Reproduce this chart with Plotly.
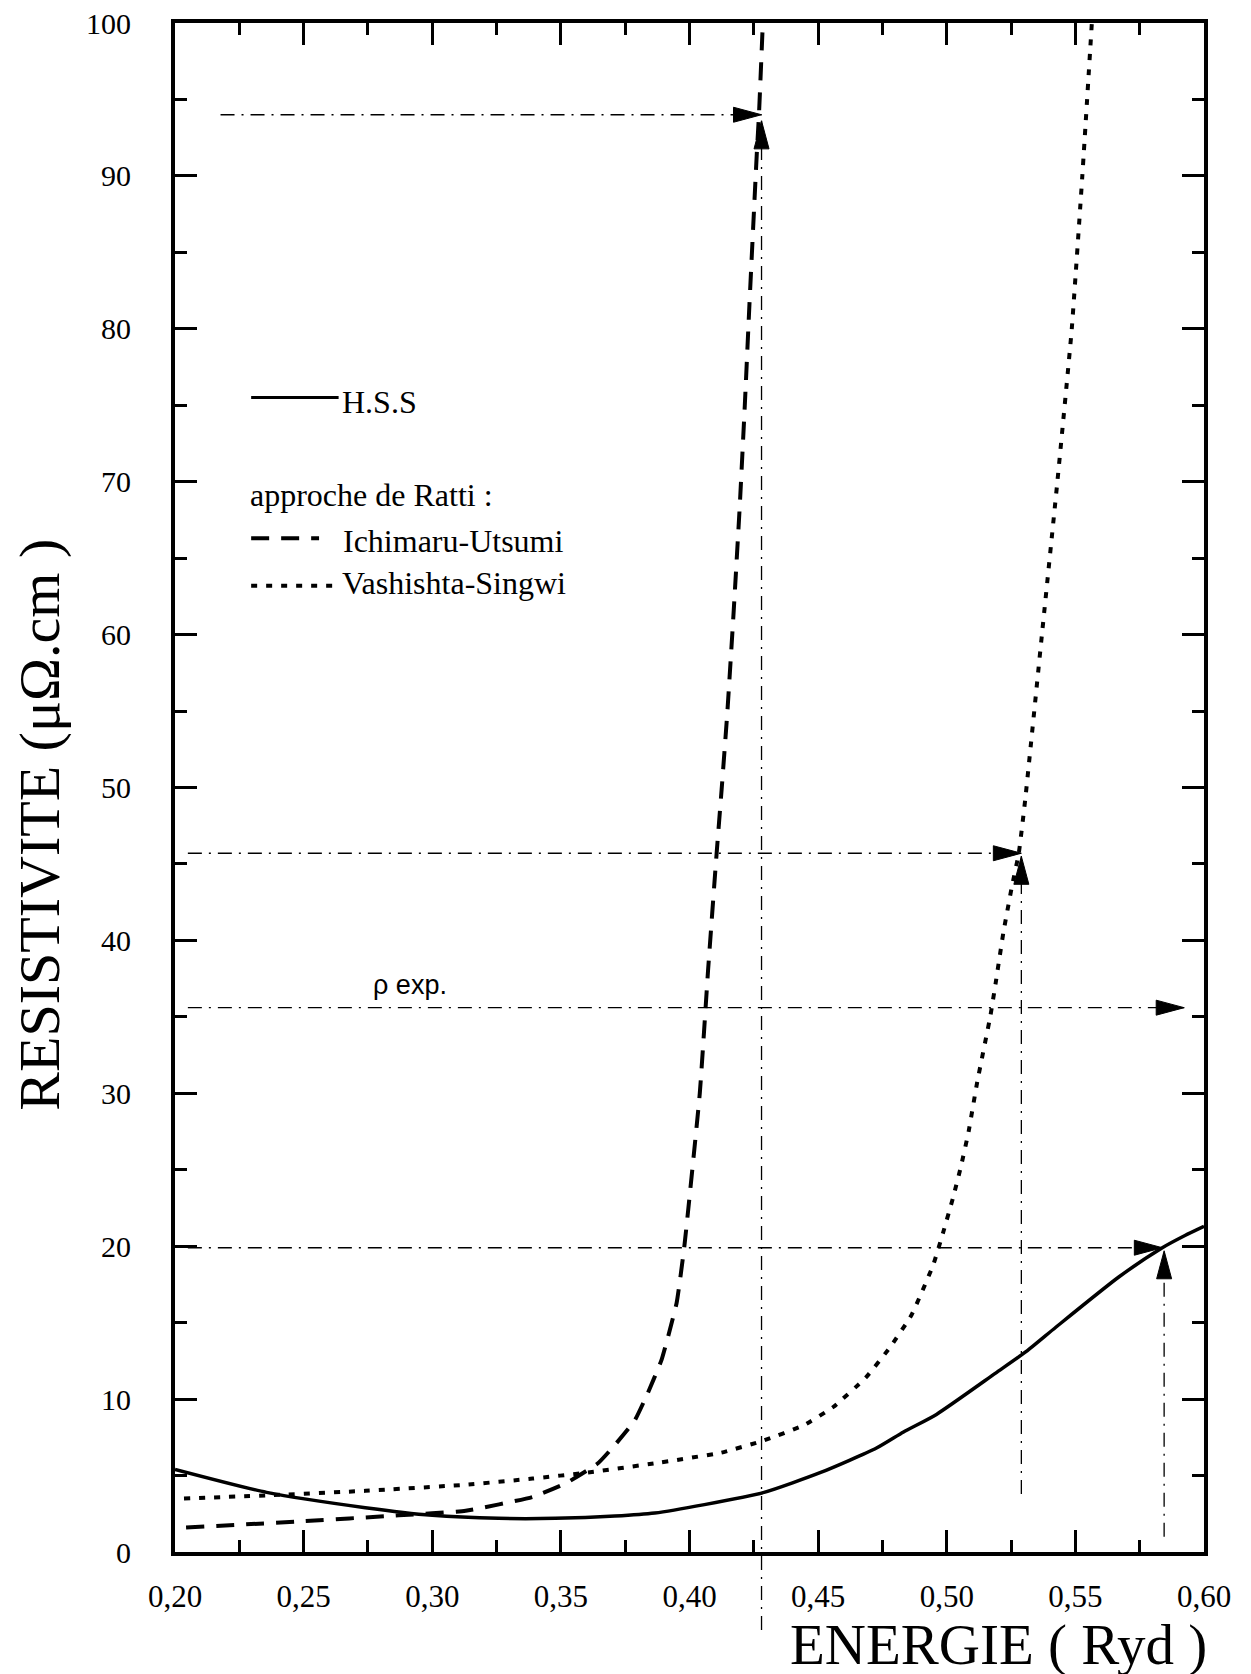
import plotly.graph_objects as go

# ---------------- data ----------------
energy_hss = [0.20, 0.2356, 0.274, 0.30, 0.3257, 0.3478, 0.371, 0.3865, 0.4058, 0.429,
              0.451, 0.4727, 0.4832, 0.496, 0.519, 0.5308, 0.5424, 0.567, 0.5838, 0.5926, 0.60]
rho_hss = [5.4, 3.9, 2.9, 2.4, 2.2, 2.2, 2.35, 2.55, 3.1, 3.9,
           5.2, 6.8, 7.85, 9.0, 11.7, 13.1, 14.7, 18.0, 19.9, 20.7, 21.3]

energy_iu = [0.2043, 0.2487, 0.287, 0.313, 0.339, 0.352, 0.3644, 0.371, 0.3787, 0.3838,
             0.3892, 0.395, 0.398, 0.404, 0.4072, 0.4105, 0.4125, 0.4147, 0.4172, 0.4195,
             0.4215, 0.4233, 0.4262, 0.427, 0.4285]
rho_iu = [1.6, 2.0, 2.4, 2.7, 3.6, 4.5, 5.8, 7.0, 8.6, 10.4,
          12.6, 16.3, 20.0, 30.0, 38.0, 45.6, 49.9, 54.9, 61.6, 68.3,
          75.0, 81.6, 91.6, 94.0, 100.0]

energy_vs = [0.2035, 0.2356, 0.274, 0.313, 0.339, 0.3605, 0.3865, 0.4124, 0.429, 0.4445,
             0.456, 0.4685, 0.478, 0.4863, 0.4948, 0.4986, 0.5025, 0.5055, 0.5085, 0.5118,
             0.517, 0.519, 0.522, 0.5253, 0.528, 0.5305, 0.537, 0.543, 0.5486, 0.5527, 0.5564]
rho_vs = [3.5, 3.7, 4.0, 4.4, 4.8, 5.2, 5.8, 6.5, 7.3, 8.3,
          9.5, 11.4, 13.4, 15.5, 18.8, 20.9, 23.2, 25.2, 27.5, 30.7,
          35.1, 37.2, 40.5, 43.5, 45.7, 49.2, 60.0, 70.0, 80.0, 90.0, 100.0]

# construction lines (dash-dot) with arrows
ref_h_y = [94.0, 45.7, 35.6, 19.9]
ref_h_x0 = [0.2177, 0.205, 0.205, 0.205]
ref_h_x1 = [0.428, 0.529, 0.5923, 0.5838]
ref_v_x = [0.428, 0.529, 0.5845]
ref_v_y0 = [-5.1, 3.8, 1.0]
ref_v_y1 = [93.6, 45.5, 19.7]

x_ticks = [0.20, 0.25, 0.30, 0.35, 0.40, 0.45, 0.50, 0.55, 0.60]
x_tick_labels = ["0,20", "0,25", "0,30", "0,35", "0,40", "0,45", "0,50", "0,55", "0,60"]
y_ticks = [0, 10, 20, 30, 40, 50, 60, 70, 80, 90, 100]

X_RANGE = [0.20, 0.60]
Y_RANGE = [0, 100]

SERIF = "Liberation Serif, Times New Roman, serif"
SANS = "Liberation Sans, Arial, sans-serif"
BLACK = "#000000"
DASHDOT = "14px,7px,2px,7px"


def y_paper(v):
    return (v - Y_RANGE[0]) / (Y_RANGE[1] - Y_RANGE[0])


fig = go.Figure()

fig.add_trace(go.Scatter(x=energy_hss, y=rho_hss, mode="lines", name="H.S.S",
                         line=dict(color=BLACK, width=3.5, shape="spline", smoothing=0.6),
                         showlegend=False))
fig.add_trace(go.Scatter(x=energy_iu, y=rho_iu, mode="lines", name="Ichimaru-Utsumi",
                         line=dict(color=BLACK, width=4, dash="18px,12px", shape="spline", smoothing=0.4),
                         showlegend=False))
fig.add_trace(go.Scatter(x=energy_vs, y=rho_vs, mode="lines", name="Vashishta-Singwi",
                         line=dict(color=BLACK, width=4, dash="6px,9px", shape="spline", smoothing=0.4),
                         showlegend=False))

shapes = []
ARROW_L, ARROW_W = 28, 7.5
# horizontal construction lines + right-pointing arrowheads
for y, x0, x1 in zip(ref_h_y, ref_h_x0, ref_h_x1):
    shapes.append(dict(type="line", xref="x", yref="y", x0=x0, x1=x1, y0=y, y1=y,
                       line=dict(color=BLACK, width=1.3, dash=DASHDOT)))
    shapes.append(dict(type="path", xref="x", yref="y", xsizemode="pixel", ysizemode="pixel",
                       xanchor=x1, yanchor=y,
                       path=f"M0,0 L{-ARROW_L},{ARROW_W} L{-ARROW_L},{-ARROW_W} Z",
                       fillcolor=BLACK, line=dict(color=BLACK, width=1)))
# vertical construction lines + up-pointing arrowheads
for x, y0, y1 in zip(ref_v_x, ref_v_y0, ref_v_y1):
    shapes.append(dict(type="line", xref="x", yref="paper", x0=x, x1=x,
                       y0=y_paper(y0), y1=y_paper(y1),
                       line=dict(color=BLACK, width=1.3, dash=DASHDOT)))
    shapes.append(dict(type="path", xref="x", yref="y", xsizemode="pixel", ysizemode="pixel",
                       xanchor=x, yanchor=y1,
                       path=f"M0,0 L{-ARROW_W},{-ARROW_L} L{ARROW_W},{-ARROW_L} Z",
                       fillcolor=BLACK, line=dict(color=BLACK, width=1)))

# legend samples
legend_line_x0 = [0.2296, 0.2296, 0.2296]
legend_line_x1 = [0.2636, 0.256, 0.2623]
legend_line_y = [75.5, 66.3, 63.2]
legend_dash = ["solid", "18px,12px", "6px,9px"]
legend_width = [3, 4, 4]
for x0, x1, y, d, w in zip(legend_line_x0, legend_line_x1, legend_line_y, legend_dash, legend_width):
    shapes.append(dict(type="line", xref="x", yref="y", x0=x0, x1=x1, y0=y, y1=y,
                       line=dict(color=BLACK, width=w, dash=d)))

annotations = []
legend_texts = ["H.S.S", "approche de Ratti :", "Ichimaru-Utsumi", "Vashishta-Singwi"]
legend_text_x = [0.2642, 0.2284, 0.2647, 0.2642]
legend_text_y = [75.2, 69.15, 66.1, 63.35]
for t, x, y in zip(legend_texts, legend_text_x, legend_text_y):
    annotations.append(dict(text=t, x=x, y=y, xref="x", yref="y", xanchor="left",
                            yanchor="middle", showarrow=False,
                            font=dict(family=SERIF, size=32, color=BLACK)))

annotations.append(dict(text="ρ exp.", x=0.2915, y=37.1, xref="x", yref="y",
                        xanchor="center", yanchor="middle", showarrow=False,
                        font=dict(family=SANS, size=27, color=BLACK)))

annotations.append(dict(text="ENERGIE ( Ryd )", x=0.80, y=-0.083, xref="paper", yref="paper",
                        xanchor="center", yanchor="bottom", showarrow=False,
                        font=dict(family=SERIF, size=57, color=BLACK)))
annotations.append(dict(text="RESISTIVITE (μΩ.cm )", x=-0.1317, y=0.476, xref="paper", yref="paper",
                        xanchor="center", yanchor="middle", showarrow=False, textangle=-90,
                        font=dict(family=SERIF, size=58, color=BLACK)))

fig.update_layout(
    width=1251, height=1674,
    margin=dict(l=167, r=55, t=15, b=130, autoexpand=False),
    paper_bgcolor="white", plot_bgcolor="white",
    separators=",.",
    shapes=shapes, annotations=annotations,
    showlegend=False,
)

fig.update_xaxes(
    range=X_RANGE, tickmode="array", tickvals=x_ticks, ticktext=x_tick_labels,
    showgrid=False, zeroline=False, automargin=False,
    showline=True, linecolor=BLACK, linewidth=4, mirror="ticks",
    ticks="inside", ticklen=22, tickwidth=3, tickcolor=BLACK,
    minor=dict(dtick=0.025, tick0=0.2, ticks="inside", ticklen=12, tickwidth=3, tickcolor=BLACK, showgrid=False),
    tickfont=dict(family=SERIF, size=31, color=BLACK),
    ticklabelstandoff=14, ticklabeloverflow="allow",
)
fig.update_yaxes(
    range=Y_RANGE, tickmode="array", tickvals=y_ticks,
    showgrid=False, zeroline=False, automargin=False,
    showline=True, linecolor=BLACK, linewidth=4, mirror="ticks",
    ticks="inside", ticklen=22, tickwidth=3, tickcolor=BLACK,
    minor=dict(dtick=5, tick0=0, ticks="inside", ticklen=12, tickwidth=3, tickcolor=BLACK, showgrid=False),
    tickfont=dict(family=SERIF, size=30, color=BLACK),
    ticklabelstandoff=34, ticklabeloverflow="allow",
)

fig.write_html("out.html")
